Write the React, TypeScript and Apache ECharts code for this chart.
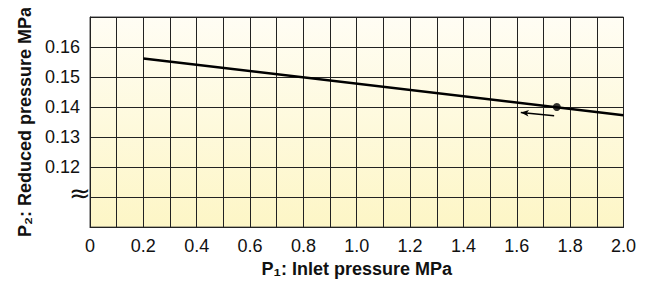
import React, { useEffect, useRef } from "react";
import * as echarts from "echarts";

// Data
const inletPressure = [0.2, 2.0]; // P1 (MPa)
const reducedPressure = [0.1562, 0.1373]; // P2 (MPa)
const setPoint = [1.75, 0.14];
const arrowFrom = [1.74, 0.1371];
const arrowTo = [1.615, 0.1382];
const yLabelValues = [0.12, 0.13, 0.14, 0.15, 0.16];
const xTitle = "P\u2081: Inlet pressure MPa";
const yTitle = "P\u2082: Reduced pressure MPa";

export default function App() {
  const ref = useRef<HTMLDivElement>(null);
  useEffect(() => {
    if (!ref.current) return;
    const chart = echarts.init(ref.current, null, { renderer: "svg" });
    const font = "Liberation Sans, Arial, Helvetica, sans-serif";
    chart.setOption({
      animation: false,
      textStyle: { fontFamily: font },
      grid: {
        left: 74,
        right: 6,
        top: 9,
        bottom: 45,
        show: true,
        borderColor: "#444",
        borderWidth: 1,
        backgroundColor: new echarts.graphic.LinearGradient(0, 0, 0, 1, [
          { offset: 0, color: "#fffdf4" },
          { offset: 1, color: "#fdf6c6" },
        ]),
      },
      xAxis: {
        type: "value",
        min: 0,
        max: 2.0,
        interval: 0.1,
        name: xTitle,
        nameLocation: "middle",
        nameGap: 32,
        nameTextStyle: { fontSize: 18, fontWeight: "bold", color: "#111", fontFamily: font },
        axisLine: { show: true, lineStyle: { color: "#222", width: 1 } },
        axisTick: { show: false },
        axisLabel: {
          fontSize: 18,
          color: "#111",
          margin: 10,
          fontFamily: font,
          formatter: (v: number) => {
            const r = Math.round(v * 10);
            if (r % 2 !== 0) return "";
            return r === 0 ? "0" : (r / 10).toFixed(1);
          },
        },
        splitLine: { show: true, lineStyle: { color: "#222", width: 1 } },
      },
      yAxis: {
        type: "value",
        min: 0.1,
        max: 0.17,
        interval: 0.01,
        name: yTitle,
        nameLocation: "middle",
        nameGap: 56,
        nameRotate: 90,
        nameTextStyle: { fontSize: 18, fontWeight: "bold", color: "#111", fontFamily: font },
        axisLine: { show: true, lineStyle: { color: "#222", width: 1 } },
        axisTick: { show: false },
        axisLabel: {
          fontSize: 18,
          color: "#111",
          margin: 10,
          fontFamily: font,
          formatter: (v: number) => {
            const r = Math.round(v * 100) / 100;
            return yLabelValues.some((y) => Math.abs(y - r) < 1e-6) ? r.toFixed(2) : "";
          },
        },
        splitLine: { show: true, lineStyle: { color: "#222", width: 1 } },
      },
      series: [
        {
          type: "line",
          data: inletPressure.map((x, i) => [x, reducedPressure[i]]),
          showSymbol: false,
          lineStyle: { color: "#000", width: 2.5 },
          markLine: {
            silent: true,
            symbol: ["none", "arrow"],
            symbolSize: [5, 8],
            label: { show: false },
            lineStyle: { color: "#000", width: 1.5, type: "solid" },
            data: [[{ coord: arrowFrom }, { coord: arrowTo }]],
          },
        },
        {
          type: "scatter",
          data: [setPoint],
          symbol: "circle",
          symbolSize: 8,
          itemStyle: { color: "#000" },
        },
      ],
      graphic: [
        {
          type: "text",
          left: 61,
          top: 172,
          style: {
            text: "\u2248",
            fontSize: 26,
            fill: "#111",
            fontFamily: "DejaVu Sans",
          },
        },
      ],
    });
    return () => chart.dispose();
  }, []);
  return <div ref={ref} style={{ width: 631, height: 275 }} />;
}
